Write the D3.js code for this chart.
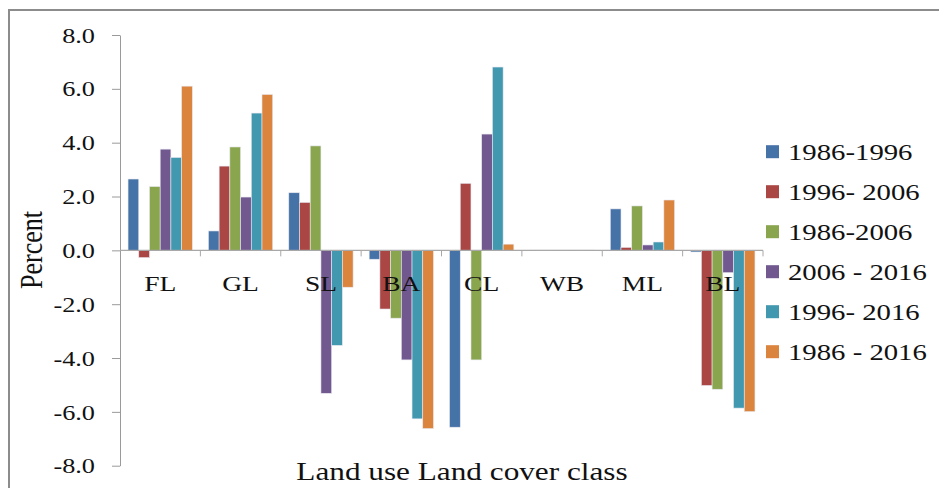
<!DOCTYPE html>
<html>
<head>
<meta charset="utf-8">
<script src="https://cdn.jsdelivr.net/npm/d3@7"></script>
<style>
  body { margin: 0; background: #fff; }
  text { font-family: "Liberation Serif", "Times New Roman", serif; fill: #111; }
</style>
</head>
<body>
<div id="chart"></div>
<script>
// land cover classes on the x axis
const categories = ["FL", "GL", "SL", "BA", "CL", "WB", "ML", "BL"];
const seriesNames = ["1986-1996", "1996- 2006", "1986-2006", "2006 - 2016", "1996- 2016", "1986 - 2016"];
const seriesColors = ["#4572a7", "#aa4643", "#89a54e", "#71588f", "#4198af", "#db843d"];

// percent change, one array per period (same order as categories)
const s1986_1996 = [2.65, 0.72, 2.14, -0.33, -6.57, 0.01, 1.54, -0.06];
const s1996_2006 = [-0.27, 3.13, 1.78, -2.18, 2.49, 0.01, 0.11, -5.02];
const s1986_2006 = [2.37, 3.84, 3.88, -2.52, -4.07, 0.01, 1.65, -5.16];
const s2006_2016 = [3.76, 1.98, -5.31, -4.07, 4.32, 0.01, 0.20, -0.83];
const s1996_2016 = [3.45, 5.10, -3.53, -6.26, 6.81, 0.01, 0.31, -5.86];
const s1986_2016 = [6.10, 5.79, -1.37, -6.62, 0.23, 0.01, 1.87, -5.99];
const seriesValues = [s1986_1996, s1996_2006, s1986_2006, s2006_2016, s1996_2016, s1986_2016];

const yTicks = [-8, -6, -4, -2, 0, 2, 4, 6, 8];

const width = 939, height = 488;
const SX = 1.25; // the reference text is a bit stretched horizontally

const svg = d3.select("#chart").append("svg")
    .attr("width", width)
    .attr("height", height);

// outer frame (runs off the right and bottom edge)
svg.append("rect")
    .attr("x", 9).attr("y", 10)
    .attr("width", 960).attr("height", 500)
    .attr("fill", "none")
    .attr("stroke", "#8c8c8c")
    .attr("stroke-width", 2);

// scales
const y = d3.scaleLinear().domain([-8, 8]).range([465.7, 35]);
const x = d3.scaleBand().domain(categories).range([120, 763]).paddingInner(0.2).paddingOuter(0.1);
const x1 = d3.scaleBand().domain(d3.range(seriesNames.length)).range([0, x.bandwidth()]);

// y axis
const yAxis = d3.axisLeft(y)
    .tickValues(yTicks)
    .tickFormat(d => d.toFixed(1))
    .tickSize(8)
    .tickSizeOuter(0);

const yAxisGroup = svg.append("g")
    .attr("class", "y-axis")
    .attr("transform", "translate(120,0)")
    .call(yAxis);

yAxisGroup.select(".domain").attr("stroke", "#9a9a9a");
yAxisGroup.selectAll(".tick line").attr("stroke", "#9a9a9a");
yAxisGroup.selectAll(".tick text")
    .attr("x", 0)
    .attr("dy", "0.34em")
    .attr("transform", `translate(-25,0) scale(${SX},1)`)
    .style("font-size", "21px")
    .style("font-family", "Liberation Serif, serif")
    .attr("fill", "#111");

// bars
const groups = svg.append("g").attr("class", "bars")
    .selectAll("g")
    .data(categories)
    .enter()
    .append("g")
    .attr("transform", d => `translate(${x(d)},0)`);

groups.selectAll("rect")
    .data((c, ci) => seriesValues.map((vals, si) => ({ si: si, v: vals[ci] })))
    .enter()
    .append("rect")
    .attr("x", d => x1(d.si))
    .attr("y", d => y(Math.max(0, d.v)))
    .attr("width", x1.bandwidth())
    .attr("height", d => Math.abs(y(d.v) - y(0)))
    .attr("fill", d => seriesColors[d.si])
    .attr("stroke", "#e8e8f0")
    .attr("stroke-width", 0.6);

// x axis line at zero with category divider ticks
const y0 = y(0);
svg.append("line")
    .attr("x1", 120).attr("x2", 763)
    .attr("y1", y0).attr("y2", y0)
    .attr("stroke", "#a8a8a8")
    .attr("stroke-width", 1.2);

svg.append("g").selectAll("line")
    .data(d3.range(1, categories.length + 1))
    .enter()
    .append("line")
    .attr("x1", i => x.range()[0] + i * x.step())
    .attr("x2", i => x.range()[0] + i * x.step())
    .attr("y1", y0).attr("y2", y0 + 6)
    .attr("stroke", "#a8a8a8");

// category labels
svg.append("g").selectAll("text")
    .data(categories)
    .enter()
    .append("text")
    .attr("text-anchor", "middle")
    .attr("transform", d => `translate(${x(d) + x.bandwidth() / 2},${y0 + 41}) scale(${SX},1)`)
    .style("font-size", "22px")
    .text(d => d);

// axis titles
svg.append("text")
    .attr("text-anchor", "middle")
    .attr("transform", `translate(462,480) scale(${SX},1)`)
    .style("font-size", "25px")
    .text("Land use Land cover class");

svg.append("text")
    .attr("text-anchor", "middle")
    .attr("dy", "0.35em")
    .attr("transform", `translate(31,250) scale(${SX},1) rotate(-90)`)
    .style("font-size", "26px")
    .text("Percent");

// legend
const legend = svg.append("g").attr("class", "legend")
    .selectAll("g")
    .data(seriesNames)
    .enter()
    .append("g")
    .attr("transform", (d, i) => `translate(766,${151.7 + i * 40})`);

legend.append("rect")
    .attr("x", 0).attr("y", -6.5)
    .attr("width", 13).attr("height", 13)
    .attr("fill", (d, i) => seriesColors[i]);

legend.append("text")
    .attr("transform", `translate(22,0) scale(${SX},1)`)
    .attr("dy", "0.36em")
    .style("font-size", "23px")
    .text(d => d);
</script>
</body>
</html>
